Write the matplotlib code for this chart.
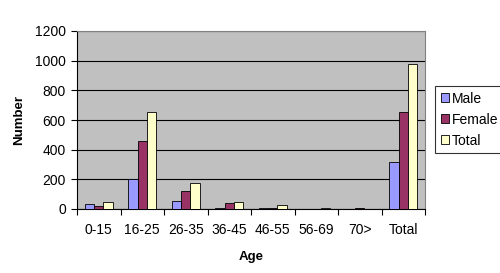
import numpy as np
import matplotlib.pyplot as plt

categories = ["0-15", "16-25", "26-35", "36-45", "46-55", "56-69", "70>", "Total"]
male = [35, 200, 55, 5, 10, 3, 0, 320]
female = [20, 458, 120, 40, 10, 3, 5, 655]
total = [50, 655, 175, 50, 25, 10, 0, 978]

fig = plt.figure(figsize=(5, 2.73), dpi=100)
ax = fig.add_axes([77 / 500, 1 - 209 / 273, 348 / 500, 178 / 273])
ax.set_facecolor("#c0c0c0")

x = np.arange(len(categories))
w = 0.215
for off, vals, col, lab in [(-w, male, "#9999ff", "Male"),
                            (0, female, "#993366", "Female"),
                            (w, total, "#ffffcc", "Total")]:
    ax.bar(x + off, vals, w, color=col, edgecolor="black", linewidth=0.6, label=lab, zorder=3)

ax.set_xlim(-0.5, len(categories) - 0.5)
ax.set_ylim(0, 1200)
ax.set_yticks(range(0, 1201, 200))
ax.yaxis.grid(True, color="black", linewidth=0.8, zorder=0)
ax.set_axisbelow(True)

ax.set_xticks(x)
ax.set_xticklabels(categories, fontsize=10, family="Liberation Sans")
ax.tick_params(axis="x", length=0, pad=10)
ax.set_xticks(np.arange(-0.5, len(categories)), minor=True)
ax.tick_params(axis="x", which="minor", length=4, width=0.8, direction="out")
ax.tick_params(axis="y", length=4, width=0.8, labelsize=10, pad=4)
for t in ax.get_yticklabels():
    t.set_family("Liberation Sans")

for s in ["top", "right"]:
    ax.spines[s].set_color("#808080")
    ax.spines[s].set_linewidth(0.8)
ax.spines["left"].set_linewidth(0.8)
ax.spines["bottom"].set_linewidth(0.8)

ax.set_ylabel("Number", fontsize=9.5, fontweight="bold", family="Liberation Sans", labelpad=7)
ax.set_xlabel("Age", fontsize=9.5, fontweight="bold", family="Liberation Sans", labelpad=10)

leg = ax.legend(loc="upper left", bbox_to_anchor=(1.03, 0.69), frameon=True, fancybox=False,
                edgecolor="black", prop={"family": "Liberation Sans", "size": 10},
                handlelength=0.6, handleheight=0.6, handletextpad=0.2, borderpad=0.4,
                labelspacing=0.5, borderaxespad=0)
leg.get_frame().set_linewidth(0.8)

fig.savefig("out.png", dpi=100)
